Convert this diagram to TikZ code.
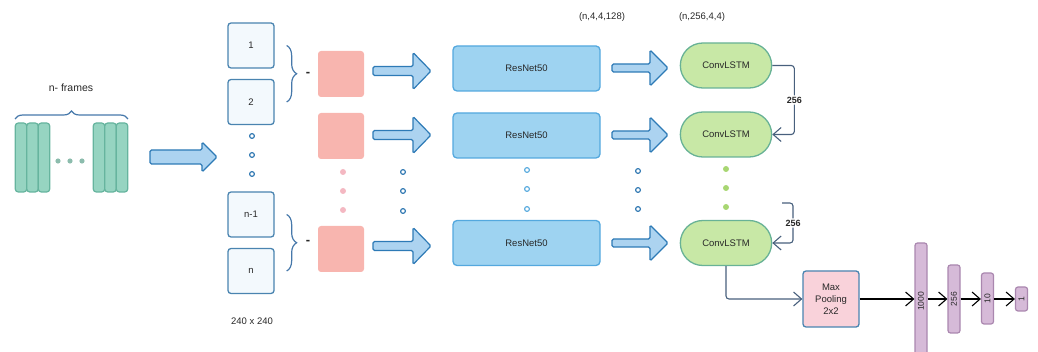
\documentclass[tikz,border=0pt]{standalone}
\usepackage{fontspec}
\usepackage{graphicx}
\setmainfont{Liberation Sans}
\usetikzlibrary{arrows.meta,positioning,calc,decorations.pathreplacing,shapes.misc}
\definecolor{frameFill}{RGB}{150,212,193}
\definecolor{frameLine}{RGB}{102,180,158}
\definecolor{boxFill}{RGB}{243,249,253}
\definecolor{boxLine}{RGB}{74,132,176}
\definecolor{pipeFill}{RGB}{172,211,240}
\definecolor{pipeLine}{RGB}{45,122,182}
\definecolor{diffFill}{RGB}{248,181,175}
\definecolor{diffDot}{RGB}{244,184,194}
\definecolor{ringCol}{RGB}{40,115,175}
\definecolor{resFill}{RGB}{158,211,241}
\definecolor{resLine}{RGB}{84,168,222}
\definecolor{lstmFill}{RGB}{200,232,166}
\definecolor{lstmLine}{RGB}{104,178,150}
\definecolor{lstmDot}{RGB}{168,214,114}
\definecolor{linkCol}{RGB}{72,96,125}
\definecolor{poolFill}{RGB}{249,210,218}
\definecolor{denseFill}{RGB}{214,186,216}
\definecolor{denseLine}{RGB}{170,135,175}
\definecolor{braceCol}{RGB}{70,120,170}
\definecolor{txt}{RGB}{40,40,40}
\tikzset{seqnet/.style={
  x=1pt, y=-1pt,
  font=\fontsize{9.5}{11}\selectfont, text=txt,
  bar/.style={rounded corners=3pt, fill=frameFill, draw=frameLine, line width=1.2pt, minimum width=11.5pt, minimum height=69pt, inner sep=0pt},
  frm/.style={rounded corners=3pt, fill=boxFill, draw=boxLine, line width=1.3pt, minimum width=46pt, minimum height=45pt, inner sep=0pt},
  diff/.style={rounded corners=3pt, fill=diffFill, draw=none, minimum size=46pt, inner sep=0pt},
  resnet/.style={rounded corners=4pt, fill=resFill, draw=resLine, line width=1.3pt, minimum width=147pt, minimum height=45pt},
  lstm/.style={rounded rectangle, fill=lstmFill, draw=lstmLine, line width=1.3pt, minimum width=98pt, minimum height=45pt},
  pool/.style={rounded corners=3pt, fill=poolFill, draw=boxLine, line width=1.3pt, minimum size=56pt, align=center, font=\fontsize{9.5}{12}\selectfont},
  dense/.style={rounded corners=2.5pt, fill=denseFill, draw=denseLine, line width=1.2pt, minimum width=12pt, inner sep=0pt, font=\fontsize{8.5}{9}\selectfont},
  brace/.style={decorate, decoration={brace, amplitude=##1}, draw=braceCol, line width=1.2pt},
  pipe/.style n args={3}{draw=pipeLine, fill=pipeFill, line width=1.2pt, rounded corners=1.5pt,
    to path={let \p1=(\tikztostart), \p2=(\tikztotarget) in
      (\x1,\y1+##1) -- (\x2-##3,\y1+##1) -- (\x2-##3,\y1+##2) -- (\x2,\y1)
      -- (\x2-##3,\y1-##2) -- (\x2-##3,\y1-##1) -- (\x1,\y1-##1) -- cycle}},
  link/.style={draw=linkCol, line width=1.1pt, rounded corners=3pt, -{Straight Barb[length=8pt,width=14pt]}},
  fc/.style={draw=black, line width=1.1pt, -{Straight Barb[length=8pt,width=14pt]}},
  num/.style={font=\bfseries\fontsize{9}{10}\selectfont, fill=white, inner sep=1.5pt},
  ring/.style={draw=##1, line width=1.1pt, fill=white},
  minus/.style={font=\bfseries\fontsize{13}{13}\selectfont},
}}
\begin{document}
\begin{tikzpicture}[seqnet]
\useasboundingbox (0,0) rectangle (1038,352);
% =====================================================================
%  input clip of n frames
% =====================================================================
\node[font=\fontsize{10.5}{12}\selectfont] (clip) at (71,88) {n- frames};
\draw[brace=8pt] (15,119) -- (128,119);
\node[bar] (fa) at (21,157.5) {};
\node[bar] (fb) at (32.5,157.5) {};
\node[bar] (fc) at (44,157.5) {};
\node[bar] (fx) at (99,157.5) {};
\node[bar] (fy) at (110.5,157.5) {};
\node[bar] (fz) at (122,157.5) {};
\fill[frameFill!85!black!90] (58,161) circle (2.6) (70,161) circle (2.6) (82,161) circle (2.6);
\draw[pipe={7pt}{15pt}{15pt}] (150,157) to (217,157);

% =====================================================================
%  single frames (240 x 240) and frame differences
% =====================================================================
\node[frm] (in1) at (251,45.5) {1};
\node[frm] (in2) at (251,102) {2};
\node[frm] (inm) at (251,214.5) {n-1};
\node[frm] (inn) at (251,271) {n};
\draw[ring=ringCol] (252,136) circle (2.4) (252,155) circle (2.4) (252,174) circle (2.4);
\node (res) at (252,321) {240 x 240};

\draw[brace=10pt] ($(in1.east)+(12,0)$) -- ($(in2.east)+(12,0)$);
\draw[brace=10pt] ($(inm.east)+(12,0)$) -- ($(inn.east)+(12,0)$);
\node[minus] (minus1) at (308,74) {-};
\node[minus] (minus2) at (308,242) {-};

\node[diff] (d1) at (341,74) {};
\node[diff] (d2) at (341,136) {};
\node[diff] (d3) at (341,249) {};
\fill[diffDot] (343,172) circle (3) (343,191) circle (3) (343,210) circle (3);
\draw[ring=ringCol] (403,172) circle (2.4) (403,191) circle (2.4) (403,211) circle (2.4);

% =====================================================================
%  ResNet50 encoders
% =====================================================================
\draw[pipe={4.5pt}{18.5pt}{18pt}] (373,71) to (431,71);
\draw[pipe={4.5pt}{18.5pt}{18pt}] (373,135) to (431,135);
\draw[pipe={4.5pt}{18.5pt}{18pt}] (373,246) to (431,246);

\node[resnet] (r1) at (526.5,68.5) {ResNet50};
\node[resnet] (r2) at (526.5,135.5) {ResNet50};
\node[resnet] (r3) at (526.5,243) {ResNet50};
\draw[ring=resLine] (527,170) circle (2.4) (527,189) circle (2.4) (527,209) circle (2.4);
\node (shapeA) at (602,17) {(n,4,4,128)};

% =====================================================================
%  ConvLSTM stack
% =====================================================================
\draw[pipe={4pt}{18pt}{18pt}] (612,68) to (668,68);
\draw[pipe={4pt}{18pt}{18pt}] (612,135) to (668,135);
\draw[pipe={4pt}{18pt}{18pt}] (612,243) to (668,243);
\draw[ring=ringCol] (638,171) circle (2.4) (638,190) circle (2.4) (638,209) circle (2.4);

\node[lstm] (l1) at (726,65.5) {ConvLSTM};
\node[lstm] (l2) at (726,134.5) {ConvLSTM};
\node[lstm] (l3) at (726,243) {ConvLSTM};
\fill[lstmDot] (726,169) circle (3) (726,188) circle (3) (726,207) circle (3);
\node (shapeB) at (702,17) {(n,256,4,4)};

\draw[link] (l1.east) -- ++(22,0) |- node[pos=.25, num] {256} (l2.east);
\coordinate (carry) at (782,203);
\draw[link] (carry) -- ++(11,0) |- node[pos=.25, num] {256} (l3.east);

% =====================================================================
%  pooling and dense head
% =====================================================================
\node[pool] (mp) at (831,299) {Max\\Pooling\\2x2};
\draw[link] (l3.south) |- (mp.west);

\node[dense, minimum height=117pt] (h1) at (921,301.5) {\rotatebox{90}{1000}};
\node[dense, minimum height=68pt] (h2) at (954,299) {\rotatebox{90}{256}};
\node[dense, minimum height=51pt] (h3) at (987.5,298.5) {\rotatebox{90}{10}};
\node[dense, minimum height=24pt] (h4) at (1021.5,299) {\rotatebox{90}{1}};
\draw[fc] (mp.east) -- (mp.east -| h1.west);
\draw[fc] (h1.east |- mp.east) -- (h2.west |- mp.east);
\draw[fc] (h2.east |- mp.east) -- (h3.west |- mp.east);
\draw[fc] (h3.east |- mp.east) -- (h4.west |- mp.east);
\end{tikzpicture}
\end{document}
